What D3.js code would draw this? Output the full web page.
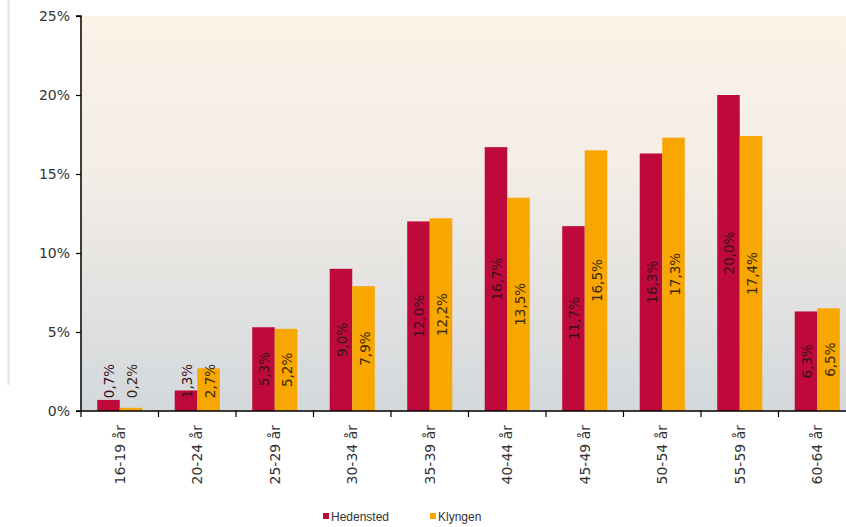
<!DOCTYPE html>
<html>
<head>
<meta charset="utf-8">
<script src="https://cdn.jsdelivr.net/npm/d3@7"></script>
<style>
  html, body { margin: 0; padding: 0; background: #fff; overflow: hidden; }
  svg { display: block; }
</style>
</head>
<body>
<svg id="chart" width="846" height="527"></svg>
<script>
const categories = ["16-19 år","20-24 år","25-29 år","30-34 år","35-39 år","40-44 år","45-49 år","50-54 år","55-59 år","60-64 år"];
const seriesNames = ["Hedensted","Klyngen"];
const hedensted = [0.7,1.3,5.3,9.0,12.0,16.7,11.7,16.3,20.0,6.3];
const klyngen   = [0.2,2.7,5.2,7.9,12.2,13.5,16.5,17.3,17.4,6.5];
const yTicks = [0,5,10,15,20,25];
const colors = ["#be0a3a","#f8a600"];
const labelColors = ["#3a0f1e","#3a2a10"];

const svg = d3.select("#chart");
const W = 846, H = 527;
const pLeft = 81, pTop = 16, pBottom = 411, pRight = 856;

const defs = svg.append("defs");
const grad = defs.append("linearGradient").attr("id","bg").attr("x1",0).attr("y1",0).attr("x2",0).attr("y2",1);
grad.append("stop").attr("offset","0%").attr("stop-color","#fcf3e7");
grad.append("stop").attr("offset","40%").attr("stop-color","#f3ede6");
grad.append("stop").attr("offset","100%").attr("stop-color","#d3d8dc");

// faint left line
svg.append("line").attr("x1",8.5).attr("x2",8.5).attr("y1",0).attr("y2",385)
  .attr("stroke","#e4e4e4").attr("stroke-width",2);

svg.append("rect").attr("x",pLeft).attr("y",pTop).attr("width",pRight-pLeft).attr("height",pBottom-pTop)
  .attr("fill","url(#bg)");

const x0 = d3.scaleBand().domain(categories).range([pLeft,pRight]).paddingInner(0).paddingOuter(0);
const x1 = d3.scaleBand().domain(seriesNames).range([0,x0.bandwidth()]).paddingOuter(0.72).paddingInner(0);
const y = d3.scaleLinear().domain([0,25]).range([pBottom,pTop]);

const data = categories.map((c,i)=>({cat:c, vals:[hedensted[i],klyngen[i]]}));

const groups = svg.append("g").selectAll("g").data(data).join("g")
  .attr("transform",d=>`translate(${x0(d.cat)},0)`);

groups.selectAll("rect").data(d=>d.vals.map((v,j)=>({v,j}))).join("rect")
  .attr("x",d=>x1(seriesNames[d.j]))
  .attr("width",x1.bandwidth())
  .attr("y",d=>y(d.v))
  .attr("height",d=>pBottom-y(d.v))
  .attr("fill",d=>colors[d.j]);

const fmt = v => v.toFixed(1).replace(".",",") + "%";
groups.selectAll("text.val").data(d=>d.vals.map((v,j)=>({v,j}))).join("text")
  .attr("class","val")
  .attr("transform",d=>{
    const cx = x1(seriesNames[d.j]) + x1.bandwidth()/2;
    let cy = (y(d.v)+pBottom)/2;
    cy = Math.min(cy, pBottom - 11 - 19);
    return `translate(${cx+1},${cy}) rotate(-90)`;
  })
  .attr("text-anchor","middle")
  .attr("dominant-baseline","central")
  .attr("font-family","DejaVu Sans, Verdana, sans-serif")
  .attr("font-size",13.5)
  .attr("fill",d=>labelColors[d.j])
  .text(d=>fmt(d.v));

// Y axis
const yAxis = d3.axisLeft(y).tickValues(yTicks).tickFormat(d=>d+"%").tickSize(5).tickPadding(6);
const gy = svg.append("g").attr("transform",`translate(${pLeft},0)`).call(yAxis);
gy.select(".domain").attr("stroke","#000").attr("stroke-width",1.5).attr("d",`M-5,${pTop}H0V${pBottom}`);
gy.selectAll(".tick line").attr("stroke","#000").attr("stroke-width",1.2);
gy.selectAll(".tick text").attr("font-family","DejaVu Sans, Verdana, sans-serif").attr("font-size",14).attr("fill","#333");

// X axis
const gx = svg.append("g").attr("transform",`translate(0,${pBottom})`);
gx.append("line").attr("x1",pLeft-5).attr("x2",W).attr("y1",0).attr("y2",0).attr("stroke","#000").attr("stroke-width",1.5);
gx.selectAll("line.tk").data(categories).join("line").attr("class","tk")
  .attr("x1",d=>x0(d)).attr("x2",d=>x0(d)).attr("y1",0).attr("y2",6)
  .attr("stroke","#000").attr("stroke-width",1.2);
gx.selectAll("text").data(categories).join("text")
  .attr("transform",d=>`translate(${x0(d)+x0.bandwidth()/2},14) rotate(-90)`)
  .attr("text-anchor","end")
  .attr("dominant-baseline","central")
  .attr("font-family","DejaVu Sans, Verdana, sans-serif")
  .attr("font-size",14)
  .attr("fill","#333")
  .text(d=>d);

// Legend
const legend = svg.append("g").attr("transform","translate(323,517)");
const legX = [0,107];
seriesNames.forEach((n,i)=>{
  const g = legend.append("g").attr("transform",`translate(${legX[i]},0)`);
  g.append("rect").attr("x",0).attr("y",-4).attr("width",6).attr("height",6).attr("fill",colors[i]);
  g.append("text").attr("x",8).attr("y",0).attr("dominant-baseline","central")
    .attr("font-family","Liberation Sans, Arial, sans-serif").attr("font-size",12).attr("fill","#333").text(n);
});
</script>
</body>
</html>
